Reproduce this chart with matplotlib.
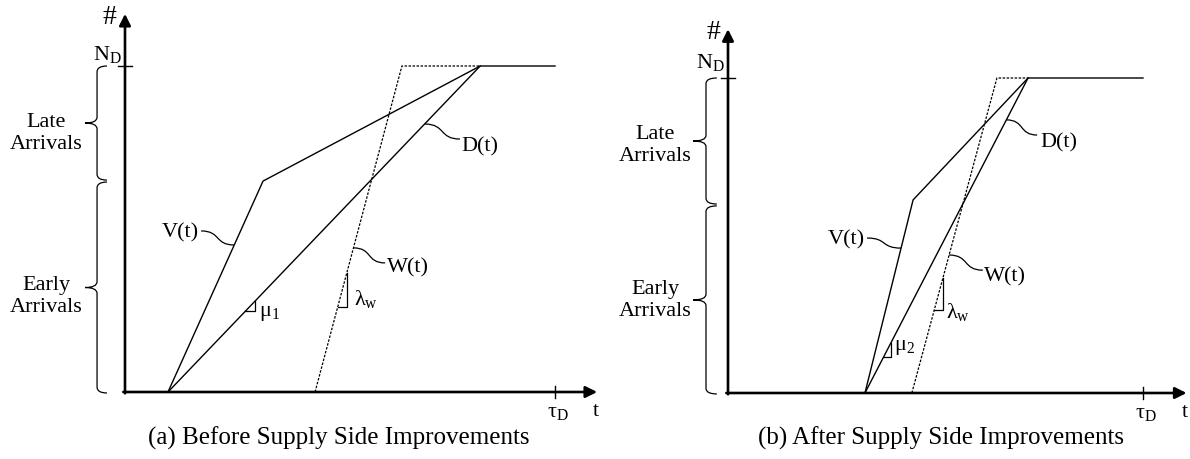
import numpy as np
import matplotlib
matplotlib.use('Agg')
import matplotlib.pyplot as plt
from matplotlib.path import Path
from matplotlib.patches import PathPatch

plt.rcParams['font.family'] = 'Liberation Serif'
plt.rcParams['mathtext.fontset'] = 'custom'
plt.rcParams['mathtext.rm'] = 'Liberation Serif'
plt.rcParams['mathtext.it'] = 'Liberation Serif:italic'

# ---- data (t in units of tau_D, N in units of N_D) ----
# (a) before supply side improvements
a_v_t = [0.10, 0.321, 0.826, 1.0]
a_v_n = [0.0, 0.647, 1.0, 1.0]
a_d_t = [0.10, 0.826]
a_d_n = [0.0, 1.0]
a_w_t = [0.442, 0.644, 0.826]
a_w_n = [0.0, 1.0, 1.0]

# (b) after supply side improvements
b_v_t = [0.330, 0.446, 0.723, 1.0]
b_v_n = [0.0, 0.613, 1.0, 1.0]
b_d_t = [0.330, 0.723]
b_d_n = [0.0, 1.0]
b_w_t = [0.443, 0.648, 0.723]
b_w_n = [0.0, 1.0, 1.0]

# split between early and late arrivals (brace)
brace_split = [0.647, 0.597]
captions = ['(a) Before Supply Side Improvements', '(b) After Supply Side Improvements']
mu_labels = [r'μ$_1$', r'μ$_2$']

LW = 1.0
FS = 16


def on_line(ts, ns, n):
    # t value where the rising part of a curve reaches n
    k = int(np.argmax(np.array(ns) >= 1.0)) + 1
    return float(np.interp(n, ns[:k], ts[:k]))


def connector(ax, p_text, p_line):
    (x0, y0), (x1, y1) = p_text, p_line
    dx = x1 - x0
    verts = [(x0, y0), (x0 + 0.6 * dx, y0), (x0 + 0.4 * dx, y1), (x1, y1)]
    path = Path(verts, [Path.MOVETO, Path.CURVE4, Path.CURVE4, Path.CURVE4])
    ax.add_patch(PathPatch(path, fill=False, lw=0.9, color='black'))


def brace(ax, x, y0, y1, hook, tip, r):
    ym = (y0 + y1) / 2
    verts = [(x + hook, y1), (x, y1), (x, y1 - r),
             (x, ym + r), (x, ym), (x - tip, ym),
             (x, ym), (x, ym - r),
             (x, y0 + r), (x, y0), (x + hook, y0)]
    codes = [Path.MOVETO, Path.CURVE3, Path.CURVE3,
             Path.LINETO, Path.CURVE3, Path.CURVE3,
             Path.CURVE3, Path.CURVE3,
             Path.LINETO, Path.CURVE3, Path.CURVE3]
    ax.add_patch(PathPatch(Path(verts, codes), fill=False, lw=0.9, color='black'))


def slope_mark(ax, ts, ns, n_lo, n_hi, label, pos):
    t_lo = on_line(ts, ns, n_lo)
    t_hi = on_line(ts, ns, n_hi)
    ax.plot([t_lo, t_hi, t_hi], [n_lo, n_lo, n_hi], color='black', lw=0.9)
    ax.text(pos[0], pos[1], label, fontsize=FS, ha='left', va='center')


def draw_panel(ax, v, d, w, lab, tips, split, brx, txt_x, late_y, early_y):
    ax.axis('off')
    # axes with arrows
    ax.annotate('', xy=(0, tips[1]), xytext=(0, -0.004),
                arrowprops=dict(arrowstyle='-|>', lw=1.9, color='black',
                                mutation_scale=17, shrinkA=0, shrinkB=0))
    ax.annotate('', xy=(tips[0], 0), xytext=(-0.004, 0),
                arrowprops=dict(arrowstyle='-|>', lw=1.9, color='black',
                                mutation_scale=17, shrinkA=0, shrinkB=0))
    ax.plot([-0.016, 0.016], [1, 1], color='black', lw=1.0)
    ax.plot([1, 1], [-0.018, 0.018], color='black', lw=1.0)

    ax.plot(v[0], v[1], color='black', lw=LW)
    ax.plot(d[0], d[1], color='black', lw=LW)
    ax.plot(w[0], w[1], color='black', lw=0.9, linestyle=(0, (2.0, 1.2)))

    # curve labels
    for (ts, ns), name, n_line, p_end, p_txt in [
            (v, 'V(t)', lab['v'][0], lab['v'][1], lab['v'][2]),
            (d, 'D(t)', lab['d'][0], lab['d'][1], lab['d'][2]),
            (w, 'W(t)', lab['w'][0], lab['w'][1], lab['w'][2])]:
        connector(ax, p_end, (on_line(ts, ns, n_line), n_line))
        ha = 'right' if p_txt[0] < p_end[0] else 'left'
        ax.text(p_txt[0], p_txt[1], name, fontsize=FS, ha=ha, va='center')

    slope_mark(ax, d[0], d[1], lab['mu'][0], lab['mu'][1], lab['mu'][2], lab['mu'][3])
    slope_mark(ax, w[0], w[1], lab['lam'][0], lab['lam'][1], r'λ$_\mathrm{w}$', lab['lam'][3])

    # braces and side labels
    brace(ax, brx[0], split + 0.003, 1.0, brx[1], brx[2], 0.018)
    brace(ax, brx[0], -0.003, split - 0.003, brx[1], brx[2], 0.018)
    ax.text(txt_x, late_y, 'Late\nArrivals', fontsize=FS, ha='center', va='center',
            linespacing=1.2)
    ax.text(txt_x, early_y, 'Early\nArrivals', fontsize=FS, ha='center', va='center',
            linespacing=1.2)

    ax.text(-0.036, tips[1] - 0.012, '#', fontsize=20, ha='center', va='center')
    ax.text(-0.008, lab['nd_y'], r'N$_\mathrm{D}$', fontsize=FS, ha='right', va='center')
    ax.text(1.007, -0.064, r'τ$_\mathrm{D}$', fontsize=FS, ha='center', va='center')
    ax.text(tips[0] - 0.003, -0.061, 't', fontsize=FS, ha='center', va='center')


fig = plt.figure(figsize=(11.9, 4.59), dpi=100)

# panel placement: pixel origin / units for each panel
ax_a = fig.add_axes([0, 0, 600 / 1190, 1])
ax_a.set_xlim(-125 / 430, 475 / 430)
ax_a.set_ylim((392 - 459) / 326, 392 / 326)

ax_b = fig.add_axes([600 / 1190, 0, 590 / 1190, 1])
ax_b.set_xlim(-128 / 415, 462 / 415)
ax_b.set_ylim((393 - 459) / 315, 393 / 315)

lab_a = {
    'v': (0.451, (0.177, 0.494), (0.172, 0.488)),
    'd': (0.822, (0.779, 0.776), (0.783, 0.752)),
    'w': (0.442, (0.605, 0.396), (0.610, 0.380)),
    'mu': (0.248, 0.279, mu_labels[0], (0.311, 0.242)),
    'lam': (0.261, 0.365, None, (0.533, 0.285)),
    'nd_y': 1.034,
}
lab_b = {
    'v': (0.460, (0.335, 0.492), (0.330, 0.486)),
    'd': (0.867, (0.745, 0.819), (0.752, 0.794)),
    'w': (0.438, (0.614, 0.390), (0.618, 0.368)),
    'mu': (0.114, 0.159, mu_labels[1], (0.400, 0.143)),
    'lam': (0.263, 0.365, None, (0.526, 0.257)),
    'nd_y': 1.048,
}

draw_panel(ax_a, (a_v_t, a_v_n), (a_d_t, a_d_n), (a_w_t, a_w_n), lab_a,
           (1.098, 1.160), brace_split[0], (-0.065, 0.023, 0.028),
           -0.183, 0.793, 0.293)
draw_panel(ax_b, (b_v_t, b_v_n), (b_d_t, b_d_n), (b_w_t, b_w_n), lab_b,
           (1.105, 1.155), brace_split[1], (-0.053, 0.026, 0.031),
           -0.176, 0.786, 0.294)

fig.text(339 / 1190, 1 - 438 / 459, captions[0], fontsize=18, ha='center', va='center')
fig.text(941 / 1190, 1 - 438 / 459, captions[1], fontsize=18, ha='center', va='center')

fig.savefig('out.png', dpi=100)
